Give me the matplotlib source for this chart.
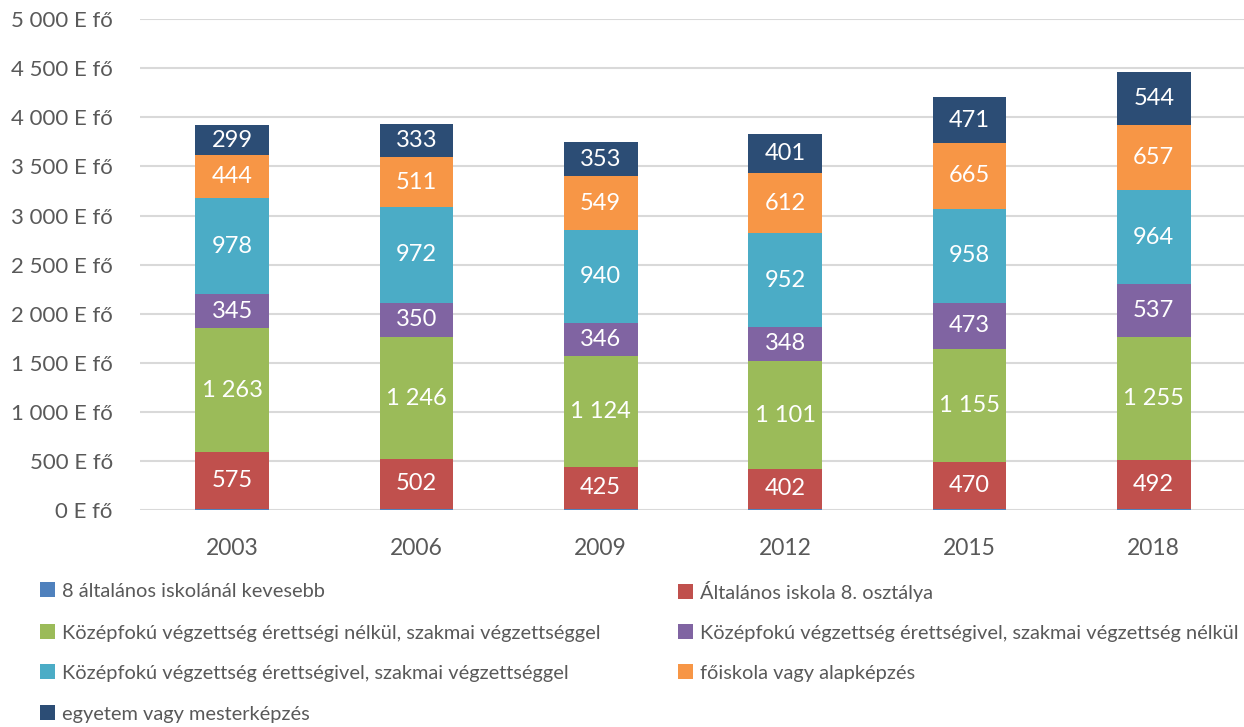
import matplotlib
matplotlib.use("Agg")
import matplotlib.pyplot as plt
from matplotlib.patches import Patch
from matplotlib.ticker import FuncFormatter

plt.rcParams['font.family'] = ['Lato', 'DejaVu Sans']

years = ["2003", "2006", "2009", "2012", "2015", "2018"]
series_names = [
    "8 általános iskolánál kevesebb",
    "Általános iskola 8. osztálya",
    "Középfokú végzettség érettségi nélkül, szakmai végzettséggel",
    "Középfokú végzettség érettségivel, szakmai végzettség nélkül",
    "Középfokú végzettség érettségivel, szakmai végzettséggel",
    "főiskola vagy alapképzés",
    "egyetem vagy mesterképzés",
]
kevesebb = [15, 15, 15, 15, 15, 15]
altalanos = [575, 502, 425, 402, 470, 492]
kozep_nelkul_szakmai = [1263, 1246, 1124, 1101, 1155, 1255]
kozep_erettsegi_nem_szakmai = [345, 350, 346, 348, 473, 537]
kozep_erettsegi_szakmai = [978, 972, 940, 952, 958, 964]
foiskola = [444, 511, 549, 612, 665, 657]
egyetem = [299, 333, 353, 401, 471, 544]

values = [kevesebb, altalanos, kozep_nelkul_szakmai, kozep_erettsegi_nem_szakmai,
          kozep_erettsegi_szakmai, foiskola, egyetem]
colors = ["#4F81BD", "#C0504D", "#9BBB59", "#8064A2", "#4BACC6", "#F79646", "#2C4D75"]
show_labels = [False, True, True, True, True, True, True]

fig = plt.figure(figsize=(12.44, 7.27), dpi=100)
ax = fig.add_axes([0.1125, 0.2985, 0.889, 0.675])

x = list(range(len(years)))
bottom = [0] * len(years)
handles = []
for vals, col, name, lab in zip(values, colors, series_names, show_labels):
    bars = ax.bar(x, vals, width=0.4, bottom=bottom, color=col, zorder=3)
    if lab:
        txt = [f"{v:,}".replace(",", " ") for v in vals]
        ax.bar_label(bars, labels=txt, label_type='center', color='white', fontsize=17)
    bottom = [b + v for b, v in zip(bottom, vals)]
    handles.append(Patch(facecolor=col, label=name))

ax.set_xlim(-0.5, len(years) - 0.5)
ax.set_ylim(0, 5000)
ax.set_yticks(range(0, 5001, 500))
ax.yaxis.set_major_formatter(FuncFormatter(lambda v, p: f"{int(v):,}".replace(",", " ") + " E fő"))
ax.set_xticks(x)
ax.set_xticklabels(years)
ax.grid(axis='y', color='#D9D9D9', linewidth=1.5, zorder=0)
for s in ax.spines.values():
    s.set_visible(False)
ax.tick_params(axis='both', length=0, labelsize=16, colors='#595959')
ax.tick_params(axis='y', pad=19.5)
ax.tick_params(axis='x', labelsize=16.5, pad=20)

# legend: one entry per slot, laid out row-wise in two columns
row_y = [591, 633, 673, 714]
col_x = [40, 678]
common = dict(frameon=False, fontsize=14.4, handlelength=0.75, handleheight=0.75,
              handletextpad=0.35, borderaxespad=0, borderpad=0, labelcolor='#595959')
for i, (h, name) in enumerate(zip(handles, series_names)):
    r, c = divmod(i, 2)
    fig.legend([h], [name], loc='center left',
               bbox_to_anchor=(col_x[c] / 1244, 1 - row_y[r] / 727), **common)

fig.savefig("out.png", dpi=100)
